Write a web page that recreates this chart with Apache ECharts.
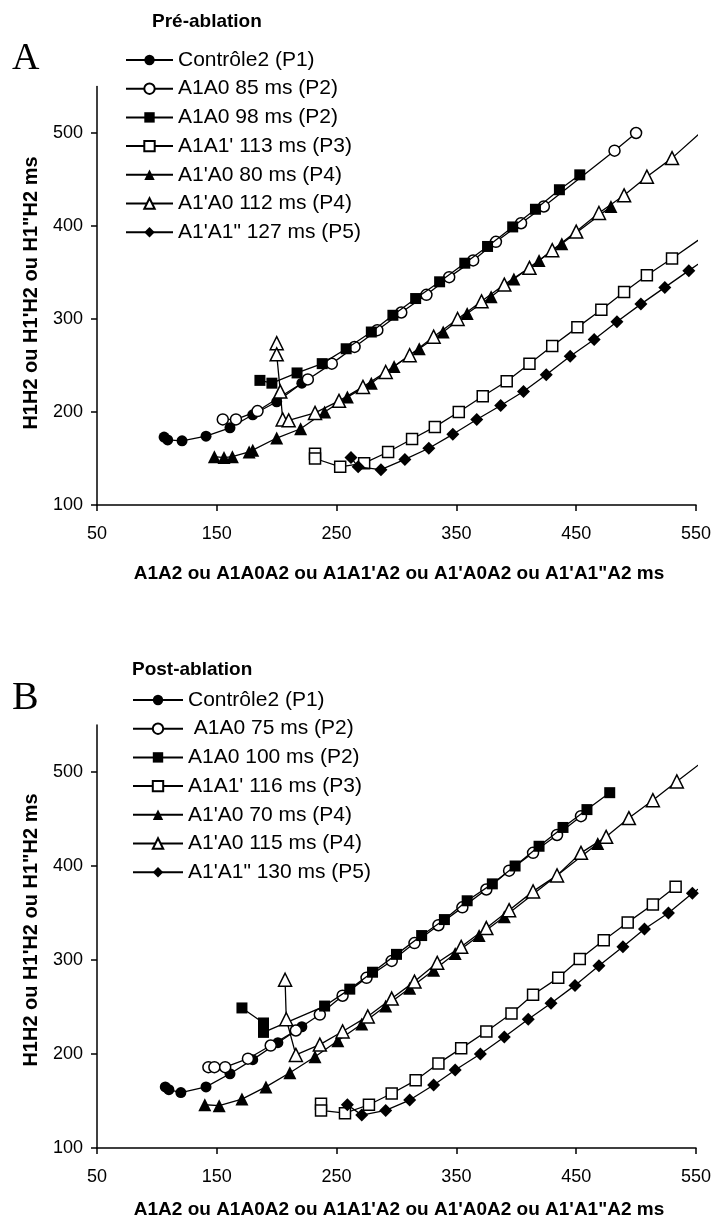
<!DOCTYPE html>
<html><head><meta charset="utf-8">
<script src="https://cdn.jsdelivr.net/npm/echarts@6/dist/echarts.min.js"></script>
<style>html,body{margin:0;padding:0;background:#fff}#c{width:714px;height:1223px}</style>
</head><body><div id="c"></div><script>
// ---- tick labels ----
const xTicks = [50,150,250,350,450,550];
const yTicks = [100,200,300,400,500];

// ---- Panel A (Pré-ablation) ----
const namesA = ['Contrôle2 (P1)','A1A0 85 ms (P2)','A1A0 98 ms (P2)',"A1A1' 113 ms (P3)","A1'A0 80 ms (P4)","A1'A0 112 ms (P4)",'A1\'A1" 127 ms (P5)'];
const ctrlA = [[106,173],[109,170],[121,169],[141,174],[161,183],[180,197],[200,211],[221,231]];
const a85  = [[155,192],[166,192],[184,201],[226,235],[246,252],[265,270],[284,288],[304,307],[325,326],[344,345],[364,363],[383,383],[404,403],[423,421],[482,481],[500,500]];
const a98  = [[186,234],[196,231],[217,242],[238,252],[258,268],[279,286],[297,304],[316,322],[336,340],[357,360],[376,378],[397,399],[416,418],[436,439],[453,455]];
const a113 = [[232,155],[232,150],[253,141],[273,145],[293,157],[313,171],[332,184],[352,200],[372,217],[392,233],[411,252],[430,271],[451,291],[471,310],[490,329],[509,347],[530,365],[570,401]];
const a80  = [[148,152],[156,151],[163,152],[177,157],[180,159],[200,172],[220,182],[240,200],[259,216],[279,231],[298,249],[319,268],[339,286],[359,306],[379,324],[398,343],[419,363],[438,381],[479,421]];
const a112 = [[200,274],[200,262],[203,222],[205,192],[210,191],[232,199],[252,212],[272,227],[291,243],[311,261],[331,281],[351,300],[371,319],[390,337],[411,355],[430,374],[450,394],[469,414],[490,433],[509,453],[530,473],[570,519]];
const a127 = [[262,151],[268,141],[287,138],[307,149],[327,161],[347,176],[367,192],[387,207],[406,222],[425,240],[445,260],[465,278],[484,297],[504,316],[524,334],[544,352],[570,375]];

// ---- Panel B (Post-ablation) ----
const namesB = ['Contrôle2 (P1)',' A1A0 75 ms (P2)','A1A0 100 ms (P2)',"A1A1' 116 ms (P3)","A1'A0 70 ms (P4)","A1'A0 115 ms (P4)",'A1\'A1" 130 ms (P5)'];
const ctrlB = [[107,165],[110,162],[120,159],[141,165],[161,179],[180,194],[201,212],[221,229]];
const b75  = [[143,186],[148,186],[157,186],[176,195],[195,209],[216,225],[236,242],[255,262],[275,281],[296,299],[315,318],[335,337],[355,356],[375,375],[394,395],[414,414],[434,433],[454,453]];
const b100 = [[171,249],[189,233],[189,223],[240,251],[261,269],[280,287],[300,306],[321,326],[340,343],[359,363],[380,381],[399,400],[419,421],[439,441],[459,460],[478,478]];
const b116 = [[237,147],[237,140],[257,137],[277,146],[296,158],[316,172],[335,190],[354,206],[375,224],[396,243],[414,263],[435,281],[453,301],[473,321],[493,340],[514,359],[533,378]];
const b70  = [[140,146],[152,145],[171,152],[191,165],[211,180],[232,197],[251,214],[271,232],[291,251],[311,270],[331,289],[349,307],[369,326],[390,346],[468,424]];
const b115 = [[207,279],[208,237],[216,199],[236,210],[255,224],[276,240],[296,259],[315,277],[334,297],[354,314],[375,334],[394,353],[414,373],[434,390],[454,414],[475,431],[494,451],[514,470],[534,490],[570,525]];
const b130 = [[259,146],[271,135],[291,140],[311,151],[331,167],[349,183],[370,200],[390,218],[410,237],[429,254],[449,273],[469,294],[489,314],[507,333],[527,350],[547,371],[570,392]];

const FONT = '"Liberation Sans", Arial, Helvetica, sans-serif';
const styles = [
  {symbol:'circle', filled:true, size:11},
  {symbol:'circle', filled:false, size:11},
  {symbol:'rect', filled:true, size:11},
  {symbol:'rect', filled:false, size:11},
  {symbol:'triangle', filled:true, size:13},
  {symbol:'triangle', filled:false, size:13},
  {symbol:'diamond', filled:true, size:13}
];
function mk(name, data, idx, g){
  const s = styles[idx];
  return {
    type:'line', name:name, data:data, xAxisIndex:g, yAxisIndex:g,
    symbol:s.symbol, symbolSize:s.size, showSymbol:true, clip:true,
    lineStyle:{color:'#000', width:1.3},
    itemStyle:{color: s.filled ? '#000' : '#fff', borderColor:'#000', borderWidth: s.filled ? 0 : 1.5},
    emphasis:{disabled:true}, animation:false, z: 2 + idx
  };
}
const dataA = [ctrlA,a85,a98,a113,a80,a112,a127];
const dataB = [ctrlB,b75,b100,b116,b70,b115,b130];
const series = [];
dataA.forEach((d,i)=>series.push(mk(namesA[i], d, i, 0)));
dataB.forEach((d,i)=>series.push(mk(namesB[i], d, i, 1)));

function xAx(g){
  return {gridIndex:g, type:'value', min:50, max:550,
    axisLine:{show:true, onZero:false, lineStyle:{color:'#000', width:1.5}},
    axisTick:{show:true, length:6, customValues:xTicks, lineStyle:{color:'#000', width:1.5}},
    axisLabel:{customValues:xTicks, color:'#000', fontSize:18, fontFamily:FONT, margin:20},
    splitLine:{show:false}};
}
function yAx(g){
  return {gridIndex:g, type:'value', min:100, max:550,
    axisLine:{show:true, onZero:false, lineStyle:{color:'#000', width:1.5}},
    axisTick:{show:true, length:6, customValues:yTicks, lineStyle:{color:'#000', width:1.5}},
    axisLabel:{customValues:yTicks, color:'#000', fontSize:18, fontFamily:FONT, margin:14},
    splitLine:{show:false}};
}
function leg(names, left, top, w){
  return {data:names, orient:'vertical', left:left, top:top, itemWidth:w, itemHeight:13, itemGap:7.7,
    selectedMode:false, textStyle:{color:'#000', fontSize:21, lineHeight:21, fontFamily:FONT}};
}
function txt(t, x, y, font, rot, align){
  return {type:'text', x:x, y:y, rotation:rot||0,
    style:{text:t, font:font, fill:'#000', textAlign:align||'left', textVerticalAlign:'middle'}};
}
const chart = echarts.init(document.getElementById('c'), null, {renderer:'canvas'});
chart.setOption({
  backgroundColor:'#fff', animation:false,
  grid:[{left:97, top:86.5, width:600, height:418.5}, {left:97, top:725, width:600, height:423}],
  xAxis:[xAx(0), xAx(1)],
  yAxis:[yAx(0), yAx(1)],
  legend:[leg(namesA, 120, 44.5, 47), leg(namesB, 127, 684.5, 50)],
  series:series,
  graphic:[
    txt('A', 12, 59, '38px "Liberation Serif", "Times New Roman", serif'),
    txt('B', 12, 698, '40px "Liberation Serif", "Times New Roman", serif'),
    txt('Pré-ablation', 152, 22, 'bold 19px ' + FONT),
    txt('Post-ablation', 132, 670, 'bold 19px ' + FONT),
    txt('A1A2 ou A1A0A2 ou A1A1\'A2 ou A1\'A0A2 ou A1\'A1"A2 ms', 399, 574, 'bold 19px ' + FONT, 0, 'center'),
    txt('A1A2 ou A1A0A2 ou A1A1\'A2 ou A1\'A0A2 ou A1\'A1"A2 ms', 399, 1210, 'bold 19px ' + FONT, 0, 'center'),
    txt('H1H2 ou H1\'H2 ou H1"H2 ms', 31, 293, 'bold 20px ' + FONT, Math.PI/2, 'center'),
    txt('H1H2 ou H1\'H2 ou H1"H2 ms', 31, 930, 'bold 20px ' + FONT, Math.PI/2, 'center')
  ]
});
</script></body></html>
